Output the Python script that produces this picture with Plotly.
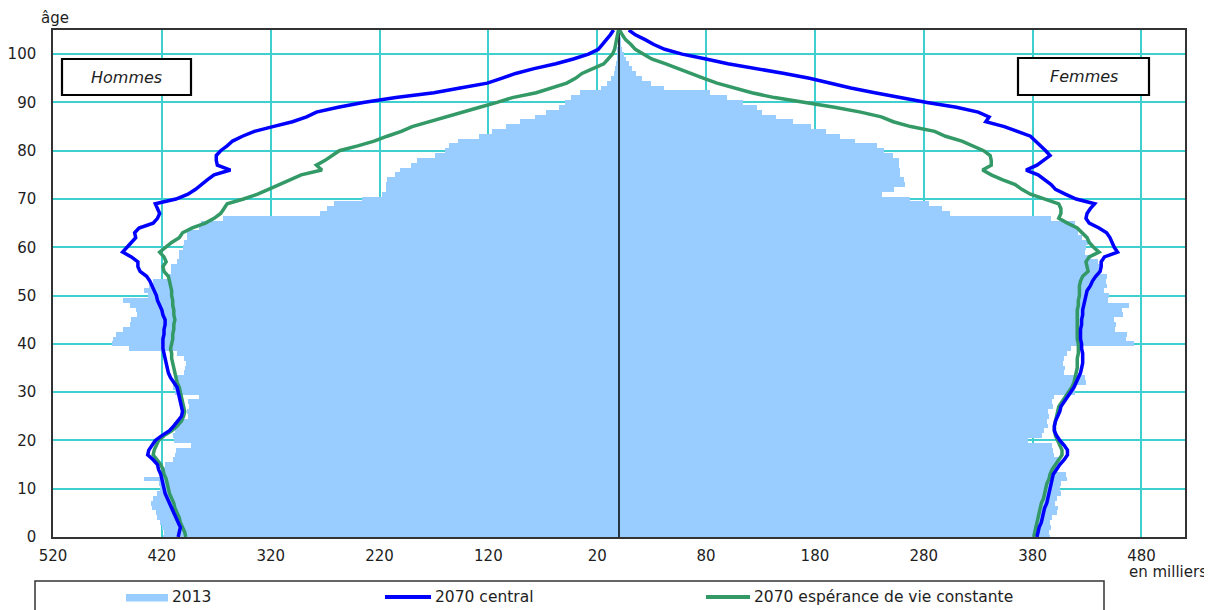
import plotly.graph_objects as go

# ---------------- data (thousands of people, by single year of age) ----------------
ages = list(range(106))

men_2013 = [419, 418, 420, 422, 424, 425, 429, 430, 428, 424,
            422, 423, 436, 420, 418, 417, 410, 408, 407, 393,
            409, 410, 408, 409, 405, 396, 397, 395, 396, 386,
            408, 410, 409, 406, 400, 399, 398, 400, 406, 450,
            466, 465, 462, 456, 449, 448, 443, 444, 449, 456,
            433, 436, 432, 428, 413, 412, 412, 406, 404, 404,
            401, 400, 397, 397, 386, 384, 364, 275, 268, 262,
            236, 218, 214, 214, 213, 206, 201, 191, 186, 169,
            160, 156, 148, 129, 117, 104, 91, 77, 67, 55,
            50, 44, 36, 17, 11, 7, 5, 4, 3, 2,
            1.5, 1, 0.6, 0.3, 0.2, 0.1]

women_2013 = [396, 395, 397, 396, 398, 402, 403, 401, 402, 406,
              405, 406, 412, 411, 402, 401, 403, 400, 399, 398,
              376, 389, 390, 394, 393, 395, 394, 399, 398, 400,
              419, 418, 429, 428, 409, 410, 408, 409, 412, 415,
              473, 466, 467, 456, 457, 455, 463, 462, 469, 449,
              450, 446, 448, 447, 448, 441, 442, 440, 434, 428,
              429, 431, 425, 422, 421, 419, 397, 304, 297, 285,
              267, 242, 253, 263, 262, 258, 258, 257, 257, 252,
              243, 237, 217, 203, 190, 176, 160, 144, 131, 127,
              114, 99, 84, 41, 29, 21, 16, 12, 9, 6,
              5, 3, 2, 1, 0.6, 0.3]

men_2070_central = [405, 404, 403, 405, 407, 409, 411, 413, 415, 417,
                    418, 419, 420, 421, 423, 424, 428, 433, 432, 429,
                    426, 420, 413, 409, 405, 402, 401, 402, 403, 404,
                    405, 406, 409, 412, 414, 415, 416, 417, 418, 419,
                    419, 419, 418, 418, 417, 417, 419, 420, 422, 424,
                    425, 427, 429, 431, 434, 440, 442, 442, 448, 456,
                    452, 448, 444, 445, 441, 428, 424, 422, 424, 426,
                    407, 396, 389, 384, 378, 372, 357, 369, 370, 370,
                    366, 360, 355, 346, 335, 318, 300, 287, 278, 258,
                    235, 205, 170, 146, 121, 108, 95, 78, 58, 42,
                    28, 19, 15, 11, 8, 5]

women_2070_central = [384, 385, 386, 388, 389, 390, 391, 393, 394, 395,
                      396, 397, 398, 399, 402, 405, 409, 412, 412, 409,
                      405, 402, 400, 400, 401, 403, 405, 406, 409, 412,
                      415, 418, 420, 422, 424, 425, 426, 426, 426, 425,
                      425, 424, 424, 424, 425, 425, 426, 426, 427, 428,
                      429, 430, 433, 435, 438, 442, 443, 443, 446, 458,
                      455, 453, 451, 448, 441, 432, 429, 430, 433, 437,
                      420, 410, 401, 397, 391, 385, 374, 384, 390, 396,
                      392, 387, 383, 378, 366, 354, 337, 340, 330, 310,
                      283, 258, 235, 213, 194, 175, 152, 125, 100, 80,
                      58, 42, 32, 24, 15, 9]

men_2070_const = [398, 399, 401, 403, 404, 406, 408, 409, 411, 413,
                  414, 415, 416, 418, 419, 421, 425, 428, 427, 425,
                  423, 418, 411, 406, 402, 400, 399, 400, 401, 402,
                  403, 404, 406, 407, 408, 409, 410, 411, 411, 412,
                  411, 410, 410, 409, 409, 408, 409, 409, 410, 410,
                  411, 411, 412, 413, 414, 418, 419, 416, 418, 422,
                  417, 411, 404, 401, 392, 380, 372, 366, 363, 360,
                  345, 332, 322, 312, 303, 292, 273, 278, 270, 264,
                  257, 240, 225, 213, 200, 190, 175, 160, 145, 128,
                  112, 98, 76, 62, 48, 40, 34, 24, 14, 10,
                  6, 4, 3, 2, 1, 0.5]

women_2070_const = [381, 382, 383, 384, 385, 386, 387, 388, 390, 391,
                    392, 393, 395, 396, 398, 401, 404, 407, 407, 405,
                    403, 401, 400, 400, 401, 402, 403, 404, 407, 410,
                    413, 416, 418, 419, 420, 421, 421, 421, 422, 422,
                    422, 421, 421, 421, 421, 421, 421, 421, 422, 422,
                    423, 423, 423, 424, 426, 431, 430, 429, 432, 441,
                    436, 432, 430, 426, 421, 412, 404, 406, 406, 404,
                    392, 378, 370, 364, 352, 342, 334, 342, 342, 341,
                    335, 325, 315, 300, 290, 268, 252, 241, 222, 198,
                    170, 143, 122, 105, 90, 78, 67, 55, 43, 30,
                    22, 15, 11, 6, 3, 0.5]

x_tick_vals = [-520, -420, -320, -220, -120, -20, 80, 180, 280, 380, 480]
x_tick_text = ["520", "420", "320", "220", "120", "20", "80", "180", "280", "380", "480"]
y_tick_vals = [0, 10, 20, 30, 40, 50, 60, 70, 80, 90, 100]

legend_labels = ["2013", "2070 central", "2070 espérance de vie constante"]

# ---------------- styling ----------------
BAR = "#99CCFF"
BLUE = "#0000FF"
GREEN = "#339966"
GRID = "#3FCFCF"
FONT = "DejaVu Sans"
TXT = "#1e1e1e"

# The page body has an 8px margin, so the figure starts at (8, 8) in the window.
OFF = 8
# plot area in window pixels
L, R, T, B = 53, 1185, 30, 537
W, H = 1212, 610


def px(x):
    return (x - L) / (R - L)


def py(y):
    return (B - y) / (B - T)


fig = go.Figure()

# 2013 pyramid bars
fig.add_trace(go.Bar(y=ages, x=[-v for v in men_2013], orientation="h",
                     marker=dict(color=BAR, line=dict(width=0)), width=1.0,
                     name=legend_labels[0]))
fig.add_trace(go.Bar(y=ages, x=women_2013, orientation="h",
                     marker=dict(color=BAR, line=dict(width=0)), width=1.0,
                     name=legend_labels[0]))

# central vertical axis line
fig.add_trace(go.Scatter(x=[0, 0], y=[0, 105], mode="lines",
                         line=dict(color="black", width=1.5), hoverinfo="skip"))

# 2070 constant life expectancy (green)
fig.add_trace(go.Scatter(y=ages, x=[-v for v in men_2070_const], mode="lines",
                         line=dict(color=GREEN, width=3.5), name=legend_labels[2]))
fig.add_trace(go.Scatter(y=ages, x=women_2070_const, mode="lines",
                         line=dict(color=GREEN, width=3.5), name=legend_labels[2]))

# 2070 central (blue)
fig.add_trace(go.Scatter(y=ages, x=[-v for v in men_2070_central], mode="lines",
                         line=dict(color=BLUE, width=3.5), name=legend_labels[1]))
fig.add_trace(go.Scatter(y=ages, x=women_2070_central, mode="lines",
                         line=dict(color=BLUE, width=3.5), name=legend_labels[1]))

fig.update_layout(
    width=W, height=H,
    margin=dict(l=L - OFF, r=W - (R - OFF), t=T - OFF, b=H - (B - OFF), autoexpand=False),
    paper_bgcolor="white", plot_bgcolor="white",
    showlegend=False, barmode="overlay", bargap=0,
    font=dict(family=FONT, size=15, color=TXT),
)

fig.update_xaxes(range=[-520, 520], tickvals=x_tick_vals, ticktext=x_tick_text,
                 showgrid=True, gridcolor=GRID, gridwidth=1.5, zeroline=False,
                 showline=True, mirror=True, linecolor="#333333", linewidth=1.5,
                 ticks="", ticklabelstandoff=4, automargin=False,
                 tickfont=dict(family=FONT, size=15, color=TXT))
fig.update_yaxes(range=[0, 105], tickvals=y_tick_vals,
                 showgrid=True, gridcolor=GRID, gridwidth=1.5, zeroline=False,
                 showline=True, mirror=True, linecolor="#333333", linewidth=1.5,
                 ticks="", ticklabelstandoff=12, automargin=False,
                 tickfont=dict(family=FONT, size=15, color=TXT))

shapes = []
annotations = []

# Hommes / Femmes boxes
for (x0, x1, y0, y1, label) in [(62, 191, 59, 95, "Hommes"), (1018, 1149, 58, 95, "Femmes")]:
    shapes.append(dict(type="rect", xref="paper", yref="paper",
                       x0=px(x0), x1=px(x1), y0=py(y1), y1=py(y0),
                       line=dict(color="black", width=2.2), fillcolor="white", layer="above"))
    annotations.append(dict(xref="paper", yref="paper", x=px((x0 + x1) / 2), y=py((y0 + y1) / 2),
                            text="<i>" + label + "</i>", showarrow=False,
                            font=dict(family=FONT, size=16, color=TXT),
                            xanchor="center", yanchor="middle"))

# axis titles
annotations.append(dict(xref="paper", yref="paper", x=px(55), y=py(18), text="âge",
                        showarrow=False, font=dict(family=FONT, size=15, color=TXT),
                        xanchor="center", yanchor="middle"))
annotations.append(dict(xref="paper", yref="paper", x=px(1127), y=py(572), text="en milliers",
                        showarrow=False, font=dict(family=FONT, size=15, color=TXT),
                        xanchor="left", yanchor="middle"))

# legend box (bottom, partly cut off)
shapes.append(dict(type="rect", xref="paper", yref="paper",
                   x0=px(35), x1=px(1104), y0=py(640), y1=py(581),
                   line=dict(color="#333333", width=1.5), fillcolor="rgba(0,0,0,0)"))
# legend swatches
shapes.append(dict(type="rect", xref="paper", yref="paper",
                   x0=px(126), x1=px(168), y0=py(601.5), y1=py(594),
                   line=dict(width=0), fillcolor=BAR))
shapes.append(dict(type="line", xref="paper", yref="paper",
                   x0=px(385), x1=px(431), y0=py(597), y1=py(597),
                   line=dict(color=BLUE, width=4)))
shapes.append(dict(type="line", xref="paper", yref="paper",
                   x0=px(706), x1=px(750), y0=py(597), y1=py(597),
                   line=dict(color=GREEN, width=4)))
for xpos, label in zip([170, 433, 752], legend_labels):
    annotations.append(dict(xref="paper", yref="paper", x=px(xpos), y=py(597), text=label,
                            showarrow=False, font=dict(family=FONT, size=15.5, color=TXT),
                            xanchor="left", yanchor="middle"))

fig.update_layout(shapes=shapes, annotations=annotations)

fig.write_html("out.html")
